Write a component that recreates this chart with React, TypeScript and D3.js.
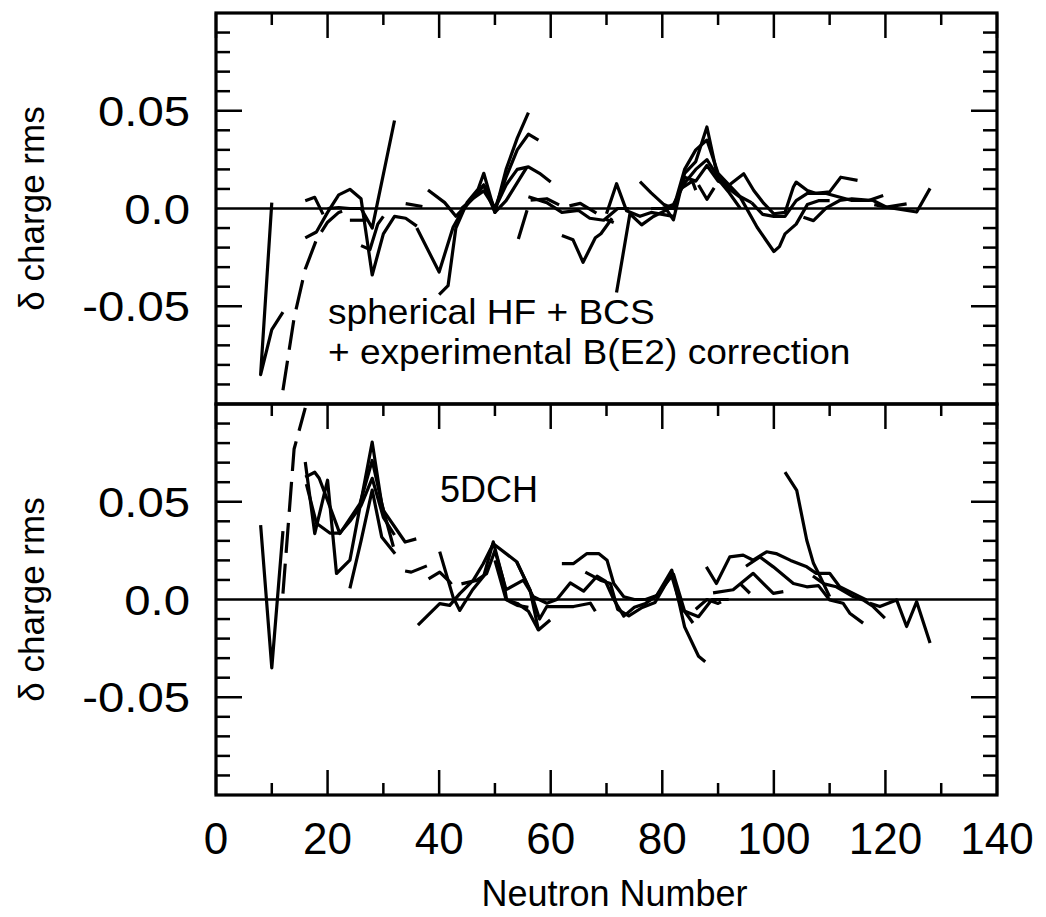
import React from 'react';
import * as d3 from 'd3';

// ---------- axis / tick data ----------
const xDomain: [number, number] = [0, 140];
const yDomain: [number, number] = [-0.1, 0.1];
const xMajorTicks = [0, 20, 40, 60, 80, 100, 120, 140];
const xMinorTicks = [10, 30, 50, 70, 90, 110, 130];
const yLabelTicks = [0.05, 0, -0.05];
const yLabelText = ['0.05', '0.0', '-0.05'];
const yMinorTicks = [-0.09, -0.08, -0.07, -0.06, -0.04, -0.03, -0.02, -0.01, 0.01, 0.02, 0.03, 0.04, 0.06, 0.07, 0.08, 0.09];
const yMajorTicks = [-0.05, 0.05];

// ---------- top panel: spherical HF + BCS + B(E2) ----------
type P = [number, number];
const T1: P[] = [[10, 0.003], [8, -0.085], [10, -0.062], [12, -0.053]];
const T2: P[] = [[12, -0.093], [14, -0.056], [16, -0.031], [18, -0.016], [20, -0.007], [22, -0.002], [24, 0.0], [26, 0.0]];
const T3: P[] = [[16, 0.004], [17.7, 0.0057], [19.2, -0.003]];
const T4: P[] = [[16, -0.015], [18, -0.012], [20, -0.002], [22, 0.007], [24, 0.0098], [26, 0.005], [28, -0.034], [30, -0.013], [32, -0.004], [34, -0.005], [36, -0.009]];
const T5: P[] = [[20, 0.0], [22, 0.0005], [24, 0.0], [26, 0.0], [28, -0.01], [32, 0.045]];
const T6: P[] = [[24, -0.006], [27, -0.006]];
const T7: P[] = [[26, -0.019], [27.6, -0.021], [29, -0.008], [30, -0.004]];
const T8: P[] = [[36, -0.01], [40, -0.0325], [42.5, -0.0096], [44, -0.002], [46, 0.006], [48, 0.012], [50, -0.002], [52, 0.004], [55.7, 0.021]];
const T9: P[] = [[40, -0.044], [41.6, -0.0395], [43, -0.01], [45, 0.003], [47, 0.01], [48, 0.018], [50, -0.002], [52, 0.02], [54, 0.036], [56, 0.049]];
const T10: P[] = [[38, 0.0095], [41, 0.003], [43, -0.004], [45, 0.002], [47, 0.008], [48, 0.012], [50, 0.0], [52, 0.016], [54, 0.03], [56, 0.038], [57.8, 0.035]];
const T11: P[] = [[44, 0.0], [46, 0.005], [48, 0.009], [50, 0.0], [52, 0.012], [54, 0.02], [56, 0.0213], [58, 0.018], [60, 0.0136]];
const T13: P[] = [[54.2, -0.0156], [56.3, 0.0042], [59.3, 0.005], [62.3, 0.0007], [65.3, 0.0026], [68.3, -0.0026], [69.8, -0.0054], [71.3, -0.0072]];
const T14: P[] = [[56, 0.006], [59.3, 0.003], [62, -0.002], [65, -0.001], [67, -0.005], [69.5, -0.006], [72, 0.0], [74, 0.0]];
const T15: P[] = [[62, -0.0138], [64, -0.016], [65.8, -0.0275], [68, -0.015], [69, -0.0129], [71, -0.005]];
const T16: P[] = [[70, -0.0027], [71.8, 0.0127], [73.6, -0.0012], [76, -0.004], [78, -0.002], [80, -0.003], [82, -0.004]];
const T17: P[] = [[71.8, -0.043], [74.2, -0.0027], [76.3, -0.0084], [78.4, -0.0041], [80.8, -0.0007], [82, -0.0058], [84, 0.018], [86, 0.024], [88, 0.0417], [90, 0.015], [92, 0.008], [94, 0.0]];
const T18: P[] = [[76, 0.0137], [78, 0.008], [80.3, 0.002], [82, 0.0], [84, 0.02], [86, 0.03], [88, 0.035], [90, 0.018], [92, 0.012], [94, 0.006], [96, 0.003]];
const T19: P[] = [[78, 0.0], [80, 0.0], [82, 0.002], [84, 0.013], [86, 0.02], [88, 0.025], [90, 0.016], [92, 0.01], [94, 0.0057], [97, -0.0096], [100, -0.022], [101, -0.0195], [102, -0.013], [104, -0.008], [106, 0.002], [108, 0.004], [110, 0.004]];
const T20: P[] = [[80, 0.0], [82, 0.0], [84, 0.016], [86, 0.014], [88, 0.022], [90, 0.014], [92, 0.012], [94.6, 0.0178], [96.4, 0.0092], [98.2, 0.0026], [100, -0.0027], [102, -0.002], [103.5, 0.011], [104, 0.0135], [106, 0.0092], [107.6, 0.0077], [110, 0.0085], [112, 0.016], [115, 0.0144]];
const T21: P[] = [[86.5, 0.012], [88, 0.0047], [90.3, 0.015]];
const T22: P[] = [[96, 0.003], [98, -0.003], [100, -0.004], [102, -0.004], [104, 0.004], [106, 0.0077], [109.4, 0.0077], [114, 0.0041], [117, 0.0041], [119.6, 0.0067]];
const T23: P[] = [[105.3, -0.0045], [107.1, -0.0062], [109.4, 0.0003], [111.8, 0.0041], [114, 0.005], [117.8, 0.0041], [120.2, 0.0007], [123.8, 0.0024]];
const T24: P[] = [[118, 0.002], [120.2, 0.0007], [125.6, -0.0018], [128, 0.0103]];
const T25: P[] = [[34, 0.0025], [37, 0.001]];
const T26: P[] = [[83.6, 0.0107], [85.4, 0.014], [86, 0.0094]];

const topSeries = [T1, T2, T3, T4, T5, T6, T7, T8, T9, T10, T11, T13, T14, T15, T16, T17, T18, T19, T20, T21, T22, T23, T24, T25, T26];
const topDashed = [false, true, false, false, false, true, false, false, false, false, false, true, false, false, false, false, false, false, false, true, false, false, false, true, false];

// ---------- bottom panel: 5DCH ----------
const B1: P[] = [[8, 0.038], [10, -0.035], [12, 0.035]];
const B2: P[] = [[12, 0.003], [14, 0.077], [16, 0.098]];
const B3: P[] = [[16, 0.0703], [17.7, 0.0337], [20, 0.061], [21.6, 0.0133], [24, 0.0201], [28, 0.0805], [29.7, 0.049], [31.8, 0.027]];
const B4: P[] = [[16, 0.0626], [17.7, 0.0651], [18.5, 0.062], [20, 0.0507], [22.2, 0.0337], [25.8, 0.049], [28, 0.0711], [30, 0.0456], [33.9, 0.0294], [35.9, 0.031]];
const B5: P[] = [[16.2, 0.059], [18, 0.039], [20.4, 0.034], [22.2, 0.034], [24, 0.04], [26, 0.048], [28, 0.062], [30, 0.042], [32, 0.033]];
const B6: P[] = [[24, 0.0057], [26, 0.03], [28, 0.056], [29.7, 0.032], [32.1, 0.0234]];
const B8: P[] = [[33.9, 0.0146], [35, 0.014], [37.8, 0.0172]];
const B9: P[] = [[38.1, 0.0105], [40.1, 0.014], [41.9, 0.009], [43, 0.005]];
const B10: P[] = [[40.1, 0.0245], [42.5, 0.0012], [43.7, -0.0056], [46, 0.005], [48, 0.012], [49.7, 0.0295], [51.5, 0.0099], [52.1, -0.0002], [54, -0.003], [56, -0.004]];
const B11: P[] = [[36.2, -0.0131], [40.1, -0.0021], [41.9, -0.003], [43.7, 0.003], [46.1, 0.0098], [47.9, 0.0183], [49.7, 0.0285], [53.9, 0.0193], [56.3, 0.0048], [57.8, -0.0156], [59.9, -0.0105]];
const B12: P[] = [[44, 0.008], [46.7, 0.0098], [48.5, 0.0132], [50, 0.025], [52, 0.005], [55.1, 0.0099], [56.9, 0.0014], [59.3, -0.0019], [61.1, 0.0], [63.5, 0.0085], [65.9, 0.0043], [68.3, 0.0119], [69.8, 0.0094], [71.3, 0.0], [73.1, -0.0085], [75, -0.004], [77, -0.002], [79, 0.002], [81.7, 0.015], [84, -0.014], [86.5, -0.029], [87.7, -0.0318]];
const B13: P[] = [[50, 0.02], [52, 0.0], [54, -0.002], [56, -0.006], [57.8, -0.0156]];
const B14: P[] = [[53.9, 0.0193], [56.3, 0.0048], [58, -0.01], [59.3, -0.0036], [62, -0.0036], [64.1, -0.0036], [67.1, -0.0019], [68, -0.006]];
const B15: P[] = [[62, 0.0184], [64.1, 0.0184], [66.5, 0.0235], [68.6, 0.0235], [70.1, 0.0201], [71.3, 0.0082], [73.1, 0.0014], [75, 0.0], [77, 0.0], [79, 0.002], [81.7, 0.012], [83.5, -0.0054], [86.5, -0.0088], [88.9, 0.0], [91.9, 0.0]];
const B16: P[] = [[66.2, 0.014], [68.9, 0.0099], [70.7, 0.0082], [72, -0.005], [74, -0.0084], [76.4, -0.0041], [78.7, -0.0015], [81.1, 0.0104], [82, 0.013], [84, -0.006], [85.5, -0.012]];
const B17: P[] = [[87.9, 0.0167], [89.7, 0.0082], [92.1, 0.0218], [94.5, 0.0227], [96.3, 0.0201], [98.7, 0.0244], [100.4, 0.0235], [103, 0.02], [105.9, 0.0167], [107.6, 0.0134], [110, 0.0134], [111.8, 0.0065], [115.4, 0.0015], [116.6, -0.0002]];
const B18: P[] = [[89.1, 0.0034], [92.7, 0.005], [96.3, 0.0134], [97.5, 0.0099], [99.9, 0.0031], [101.7, 0.004]];
const B19: P[] = [[95, 0.017], [97.5, 0.0218], [99.9, 0.0167], [103.5, 0.0082], [105.9, 0.0065], [108, 0.0071], [110, -0.0002], [112.4, -0.0019], [113.6, -0.007], [116, -0.0121]];
const B20: P[] = [[102, 0.0652], [104.1, 0.0558], [105.9, 0.0303], [107.1, 0.0185], [108.3, 0.0117], [110, 0.0015]];
const B21: P[] = [[107, 0.012], [109, 0.008], [111.2, 0.0065], [114.2, 0.0015], [116, -0.0002], [117.8, -0.0036], [119.9, -0.0095]];
const B22: P[] = [[117.2, -0.0019], [119, -0.0036], [122, -0.0002], [123.8, -0.0138], [125.6, -0.0011], [128, -0.0223]];
const B23: P[] = [[93.9, 0.0082], [95.7, 0.0032]];
const B24: P[] = [[86, -0.005], [88, 0.0], [90, -0.002], [92, 0.001]];

const bottomSeries = [B1, B2, B3, B4, B5, B6, B8, B9, B10, B11, B12, B13, B14, B15, B16, B17, B18, B19, B20, B21, B22, B23, B24];
const bottomDashed = [false, true, false, false, false, false, true, true, false, false, false, false, false, false, false, false, false, false, false, false, false, false, true];

const topNotes = ['spherical HF + BCS', '+ experimental B(E2) correction'];
const bottomNote = '5DCH';
const yTitle = 'δ charge rms';
const xTitle = 'Neutron Number';

// ---------- layout ----------
const W = 1046, H = 917;
const left = 216, right = 997;
const panels = [
  { top: 13, bottom: 404, series: topSeries, dashed: topDashed, bottomTicks: false },
  { top: 404, bottom: 795, series: bottomSeries, dashed: bottomDashed, bottomTicks: true },
];
const FONT = '"Liberation Sans", Arial, Helvetica, sans-serif';

export default function App() {
  const x = d3.scaleLinear().domain(xDomain).range([left, right]);
  return (
    <svg width={W} height={H} viewBox={`0 0 ${W} ${H}`} style={{ position: 'absolute', left: 0, top: 0, background: '#fff' }}>
      <rect x={0} y={0} width={W} height={H} fill="#fff" />
      <defs>
        {panels.map((p, i) => (
          <clipPath id={`clip${i}`} key={i}>
            <rect x={left} y={p.top} width={right - left} height={p.bottom - p.top} />
          </clipPath>
        ))}
      </defs>
      {panels.map((p, i) => {
        const y = d3.scaleLinear().domain(yDomain).range([p.bottom, p.top]);
        const line = d3.line<P>().x(d => x(d[0])).y(d => y(d[1]));
        return (
          <g key={i}>
            <g clipPath={`url(#clip${i})`}>
              <line x1={left} x2={right} y1={y(0)} y2={y(0)} stroke="#000" strokeWidth={2.5} />
              {p.series.map((s, j) => (
                <path key={j} d={line(s) || ''} fill="none" stroke="#000" strokeWidth={3.2}
                  strokeLinejoin="round" strokeLinecap="butt"
                  strokeDasharray={p.dashed[j] ? '30 11' : undefined} />
              ))}
            </g>
            {yMinorTicks.map(t => (
              <g key={`ym${t}`}>
                <line x1={left} x2={left + 14} y1={y(t)} y2={y(t)} stroke="#000" strokeWidth={2.5} />
                <line x1={right} x2={right - 14} y1={y(t)} y2={y(t)} stroke="#000" strokeWidth={2.5} />
              </g>
            ))}
            {yMajorTicks.map(t => (
              <g key={`yM${t}`}>
                <line x1={left} x2={left + 26} y1={y(t)} y2={y(t)} stroke="#000" strokeWidth={2.5} />
                <line x1={right} x2={right - 26} y1={y(t)} y2={y(t)} stroke="#000" strokeWidth={2.5} />
              </g>
            ))}
            {xMajorTicks.map(t => (
              <line key={`xtM${t}`} x1={x(t)} x2={x(t)} y1={p.top} y2={p.top + 25} stroke="#000" strokeWidth={2.5} />
            ))}
            {xMinorTicks.map(t => (
              <line key={`xtm${t}`} x1={x(t)} x2={x(t)} y1={p.top} y2={p.top + 12} stroke="#000" strokeWidth={2.5} />
            ))}
            {p.bottomTicks && xMajorTicks.map(t => (
              <line key={`xbM${t}`} x1={x(t)} x2={x(t)} y1={p.bottom} y2={p.bottom - 25} stroke="#000" strokeWidth={2.5} />
            ))}
            {p.bottomTicks && xMinorTicks.map(t => (
              <line key={`xbm${t}`} x1={x(t)} x2={x(t)} y1={p.bottom} y2={p.bottom - 12} stroke="#000" strokeWidth={2.5} />
            ))}
            <rect x={left} y={p.top} width={right - left} height={p.bottom - p.top} fill="none" stroke="#000" strokeWidth={3.2} />
            {yLabelTicks.map((t, k) => (
              <text key={`yl${t}`} transform={`translate(190,${y(t) + 15}) scale(1.1,1)`} textAnchor="end" fontFamily={FONT} fontSize={43} fill="#000">{yLabelText[k]}</text>
            ))}
            <text transform={`translate(44,${(p.top + p.bottom) / 2}) rotate(-90)`} textAnchor="middle" fontFamily={FONT} fontSize={35} fill="#000">{yTitle}</text>
          </g>
        );
      })}
      <text transform="translate(328,324) scale(1.06,1)" fontFamily={FONT} fontSize={35} fill="#000">{topNotes[0]}</text>
      <text transform="translate(328,364) scale(1.06,1)" fontFamily={FONT} fontSize={35} fill="#000">{topNotes[1]}</text>
      <text x={440} y={502} fontFamily={FONT} fontSize={36} fill="#000">{bottomNote}</text>
      {xMajorTicks.map(t => (
        <text key={`xl${t}`} x={x(t)} y={854} textAnchor="middle" fontFamily={FONT} fontSize={44} fill="#000">{t}</text>
      ))}
      <text x={(left + right) / 2 + 8} y={906} textAnchor="middle" fontFamily={FONT} fontSize={36} fill="#000">{xTitle}</text>
    </svg>
  );
}
